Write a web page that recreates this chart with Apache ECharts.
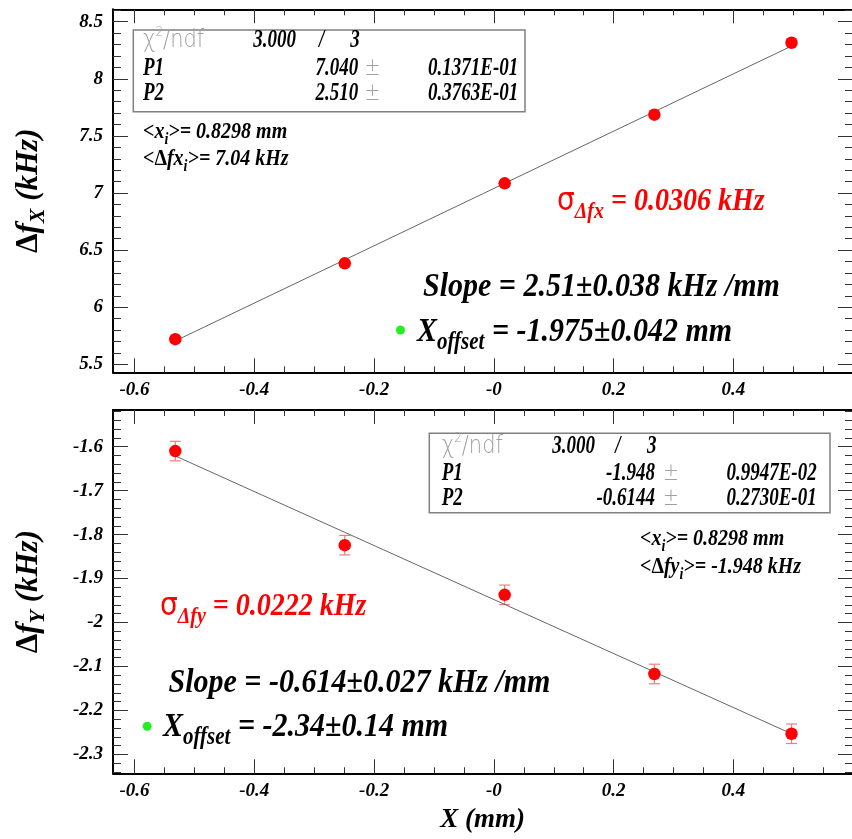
<!DOCTYPE html>
<html><head><meta charset="utf-8">
<script src="https://cdn.jsdelivr.net/npm/echarts@6/dist/echarts.min.js"></script>
<style>html,body{margin:0;padding:0;background:#fff}#c{width:852px;height:839px}</style>
</head><body><div id="c"></div><script>
// ---------------- data ----------------
const xPos = [-0.532, -0.249, 0.018, 0.268, 0.497];
const dfx = [5.72, 6.384, 7.085, 7.686, 8.316];
const dfy = [-1.610, -1.824, -1.937, -2.117, -2.253];
const dfyErr = [0.0222, 0.0222, 0.0222, 0.0222, 0.0222];
const fitX = [-0.532, 0.497];
const fitDfx = [5.705, 8.287];
const fitDfy = [-1.621, -2.253];
const offTopX = [-0.156], offTopY = [5.80];
const offBotX = [-0.579], offBotY = [-2.236];
const xTickValues = [-0.6, -0.4, -0.2, 0, 0.2, 0.4];
const xTickLabels = ['-0.6', '-0.4', '-0.2', '-0', '0.2', '0.4'];
const yTopTickValues = [5.5, 6, 6.5, 7, 7.5, 8, 8.5];
const yTopTickLabels = ['5.5', '6', '6.5', '7', '7.5', '8', '8.5'];
const yBotTickValues = [-2.3, -2.2, -2.1, -2, -1.9, -1.8, -1.7, -1.6];
const yBotTickLabels = ['-2.3', '-2.2', '-2.1', '-2', '-1.9', '-1.8', '-1.7', '-1.6'];
// fit statistics text
const chiNdf = ['3.000', '3'];
const topParVals = ['7.040', '2.510'];
const topParErrs = ['0.1371E-01', '0.3763E-01'];
const botParVals = ['-1.948', '-0.6144'];
const botParErrs = ['0.9947E-02', '0.2730E-01'];
const topMeans = ['0.8298 mm', '7.04 kHz'];
const botMeans = ['0.8298 mm', '-1.948 kHz'];
const topSigma = '0.0306 kHz', botSigma = '0.0222 kHz';
const topSlope = '2.51±0.038 kHz /mm', botSlope = '-0.614±0.027 kHz /mm';
const topOffset = '-1.975±0.042 mm', botOffset = '-2.34±0.14 mm';

// ---------------- layout ----------------
const X_MIN = -0.636, X_MAX = 0.598;
const YT_MIN = 5.43, YT_MAX = 8.609;
const YB_MIN = -2.343, YB_MAX = -1.5165;
const SERIF = '"Liberation Serif","Times New Roman",serif';
const SANS = '"DejaVu Sans",sans-serif';

function minorTicks(min, max, perUnit, every) {
  const out = [];
  for (let k = Math.ceil(min * perUnit - 1e-9); k <= Math.floor(max * perUnit + 1e-9); k++) {
    if (k % every !== 0) out.push(k / perUnit);
  }
  return out;
}
const xMinor = minorTicks(X_MIN, X_MAX, 20, 4);
const ytMinor = minorTicks(YT_MIN, YT_MAX, 10, 5);
const ybMinor = minorTicks(YB_MIN, YB_MAX, 50, 5);

function lookup(vals, labels, v) {
  let bi = 0;
  vals.forEach((t, i) => { if (Math.abs(t - v) < Math.abs(vals[bi] - v)) bi = i; });
  return labels[bi];
}

function R(size, color) {
  const s = Math.round(size * 0.7);
  const c = color || '#000';
  return {
    n: {fontFamily: SERIF, fontStyle: 'italic', fontWeight: 'bold', fontSize: size, color: c, fill: c, lineHeight: size},
    u: {fontFamily: SERIF, fontWeight: 'bold', fontSize: size, color: c, fill: c, lineHeight: size},
    s: {fontFamily: SERIF, fontStyle: 'italic', fontWeight: 'bold', fontSize: s, color: c, fill: c, lineHeight: size, padding: [Math.round(size * 0.6), 0, 0, 0]},
    g: {fontFamily: SANS, fontSize: size, color: c, fill: c, lineHeight: size},
    l: {fontFamily: SANS, fontWeight: 'lighter', fontSize: size, color: '#a0a0a0', fill: '#a0a0a0', lineHeight: size},
    lsup: {fontFamily: SANS, fontWeight: 'lighter', fontSize: Math.round(size * 0.55), color: '#a0a0a0', fill: '#a0a0a0', lineHeight: size, padding: [0, 0, Math.round(size * 0.6), 0]}
  };
}

const tickStyle = {color: '#333', width: 1};
const frame = {show: true, onZero: false, lineStyle: {color: '#000', width: 2}};
const noLine = {show: false, onZero: false};
const labelFont = {fontFamily: SERIF, fontStyle: 'italic', fontWeight: 'bold', fontSize: 19, color: '#000'};

function mkX(grid, name) {
  const base = {type: 'value', gridIndex: grid, min: X_MIN, max: X_MAX, splitLine: {show: false}};
  return [
    Object.assign({}, base, {position: 'bottom', axisLine: frame,
      axisTick: {show: true, inside: true, length: 14, customValues: xTickValues, lineStyle: tickStyle},
      axisLabel: Object.assign({show: true, customValues: xTickValues, margin: 8,
        formatter: v => lookup(xTickValues, xTickLabels, v)}, labelFont),
      name: name, nameLocation: 'middle', nameGap: 33,
      nameTextStyle: {rich: R(27, '#000')}}),
    Object.assign({}, base, {position: 'bottom', axisLine: noLine,
      axisTick: {show: true, inside: true, length: 6, customValues: xMinor, lineStyle: tickStyle}, axisLabel: {show: false}}),
    Object.assign({}, base, {position: 'top', axisLine: frame,
      axisTick: {show: true, inside: true, length: 14, customValues: xTickValues, lineStyle: tickStyle}, axisLabel: {show: false}}),
    Object.assign({}, base, {position: 'top', axisLine: noLine,
      axisTick: {show: true, inside: true, length: 6, customValues: xMinor, lineStyle: tickStyle}, axisLabel: {show: false}})
  ];
}
function mkY(grid, min, max, vals, labels, minor, name) {
  const base = {type: 'value', gridIndex: grid, min: min, max: max, splitLine: {show: false}};
  return [
    Object.assign({}, base, {position: 'left', axisLine: frame,
      axisTick: {show: true, inside: true, length: 15, customValues: vals, lineStyle: tickStyle},
      axisLabel: Object.assign({show: true, customValues: vals, margin: 10,
        formatter: v => lookup(vals, labels, v)}, labelFont),
      name: name, nameLocation: 'middle', nameRotate: 90, nameGap: 69,
      nameTextStyle: {rich: R(31, '#000')}}),
    Object.assign({}, base, {position: 'left', axisLine: noLine,
      axisTick: {show: true, inside: true, length: 8, customValues: minor, lineStyle: tickStyle}, axisLabel: {show: false}}),
    Object.assign({}, base, {position: 'right', axisLine: noLine,
      axisTick: {show: true, inside: true, length: 14, customValues: vals, lineStyle: tickStyle}, axisLabel: {show: false}}),
    Object.assign({}, base, {position: 'right', axisLine: noLine,
      axisTick: {show: true, inside: true, length: 7, customValues: minor, lineStyle: tickStyle}, axisLabel: {show: false}})
  ];
}

function zip(a, b) { return a.map((v, i) => [v, b[i]]); }
function errBars(xi, yi, ys, errs) {
  return {
    type: 'custom', xAxisIndex: xi, yAxisIndex: yi, z: 2, silent: true,
    encode: {x: 0, y: 1},
    data: xPos.map((x, i) => [x, ys[i], errs[i]]),
    renderItem(params, api) {
      const x = api.value(0), y = api.value(1), e = api.value(2);
      const hi = api.coord([x, y + e]), lo = api.coord([x, y - e]);
      const w = 5.5, st = {stroke: '#f07c7c', lineWidth: 1.2};
      return {type: 'group', children: [
        {type: 'line', shape: {x1: hi[0], y1: hi[1], x2: lo[0], y2: lo[1]}, style: st},
        {type: 'line', shape: {x1: hi[0] - w, y1: hi[1], x2: hi[0] + w, y2: hi[1]}, style: st},
        {type: 'line', shape: {x1: lo[0] - w, y1: lo[1], x2: lo[0] + w, y2: lo[1]}, style: st}
      ]};
    }
  };
}
function points(xi, yi, ys) {
  return {type: 'scatter', xAxisIndex: xi, yAxisIndex: yi, z: 4, symbol: 'circle', symbolSize: 12.5,
    itemStyle: {color: '#ff0000', opacity: 1}, data: zip(xPos, ys)};
}
function fitLine(xi, yi, ys) {
  return {type: 'line', xAxisIndex: xi, yAxisIndex: yi, z: 3, symbol: 'none', silent: true,
    lineStyle: {color: '#666', width: 1}, data: zip(fitX, ys)};
}
function greenDot(xi, yi, xs, ys) {
  return {type: 'scatter', xAxisIndex: xi, yAxisIndex: yi, z: 4, symbolSize: 9,
    itemStyle: {color: '#22ee22', opacity: 1}, data: zip(xs, ys)};
}

// ---------------- annotations ----------------
function T(x, y, text, size, color, align, sy) {
  return {type: 'text', x: x, y: y, z: 100, scaleY: sy || 1,
    style: {text: text, rich: R(size, color || '#000'), align: align || 'left', verticalAlign: 'middle'}};
}
function statBox(bx, by, bw, bh, xs, rows, vals, errs) {
  // xs: [labelLeft, chiRight, slashC, ndfC, valRight, pmC, errRight]
  const sz = 19, k = 1.3;
  return [
    {type: 'rect', z: 90, shape: {x: bx, y: by, width: bw, height: bh},
      style: {fill: '#fff', stroke: '#808080', lineWidth: 1.5}},
    T(xs[0], rows[0], '{l|χ}{lsup|2}{l|/ndf}', 21, '#000', 'left', 1.2),
    T(xs[1], rows[0], '{n|' + chiNdf[0] + '}', sz, '#000', 'right', k),
    T(xs[2], rows[0], '{n|/}', sz, '#000', 'center', k),
    T(xs[3], rows[0], '{n|' + chiNdf[1] + '}', sz, '#000', 'center', k),
    T(xs[0], rows[1], '{n|P1}', sz, '#000', 'left', k),
    T(xs[0], rows[2], '{n|P2}', sz, '#000', 'left', k),
    T(xs[4], rows[1], '{n|' + vals[0] + '}', sz, '#000', 'right', k),
    T(xs[4], rows[2], '{n|' + vals[1] + '}', sz, '#000', 'right', k),
    T(xs[5], rows[1], '{l|±}', 19, '#000', 'center', k),
    T(xs[5], rows[2], '{l|±}', 19, '#000', 'center', k),
    T(xs[6], rows[1], '{n|' + errs[0] + '}', sz, '#000', 'right', k),
    T(xs[6], rows[2], '{n|' + errs[1] + '}', sz, '#000', 'right', k)
  ];
}

const graphics = [].concat(
  statBox(133.3, 30, 391.7, 81.7, [143, 296, 321.7, 355, 358.3, 372.5, 518.3], [40.5, 68.5, 93.5], topParVals, topParErrs),
  [
    T(143, 132, '{n|<x}{s|i}{n|>= ' + topMeans[0] + '}', 20, '#000', 'left', 1.2),
    T(143, 159, '{n|<}{u|Δ}{n|fx}{s|i}{n|>= ' + topMeans[1] + '}', 20, '#000', 'left', 1.2),
    T(557, 202, '{g|σ}{s|Δfx}{n| = ' + topSigma + '}', 28, '#ff0000', 'left', 1.15),
    T(423, 287, '{n|Slope = ' + topSlope + '}', 30, '#000', 'left', 1.15),
    T(417, 332, '{n|X}{s|offset}{n| = ' + topOffset + '}', 30, '#000', 'left', 1.15)
  ],
  statBox(429.3, 433.3, 400.7, 79.4, [441.7, 595, 618, 651.7, 655, 671, 816.7], [446.5, 473.5, 498.5], botParVals, botParErrs),
  [
    T(640, 539, '{n|<x}{s|i}{n|>= ' + botMeans[0] + '}', 20, '#000', 'left', 1.2),
    T(640, 567, '{n|<}{u|Δ}{n|fy}{s|i}{n|>= ' + botMeans[1] + '}', 20, '#000', 'left', 1.2),
    T(160, 607, '{g|σ}{s|Δfy}{n| = ' + botSigma + '}', 28, '#ff0000', 'left', 1.15),
    T(168.5, 683, '{n|Slope = ' + botSlope + '}', 30, '#000', 'left', 1.15),
    T(163, 727, '{n|X}{s|offset}{n| = ' + botOffset + '}', 30, '#000', 'left', 1.15)
  ]
);

const chart = echarts.init(document.getElementById('c'), null, {renderer: 'canvas'});
chart.setOption({
  animation: false,
  backgroundColor: '#fff',
  grid: [
    {left: 111.7, top: 9.3, right: 0, height: 363},
    {left: 111.7, top: 410, right: 0, height: 363.3}
  ],
  xAxis: [].concat(mkX(0, ''), mkX(1, '{n|X (mm)}')),
  yAxis: [].concat(
    mkY(0, YT_MIN, YT_MAX, yTopTickValues, yTopTickLabels, ytMinor, '{u|Δ}{n|f}{s|X}{n| (kHz)}'),
    mkY(1, YB_MIN, YB_MAX, yBotTickValues, yBotTickLabels, ybMinor, '{u|Δ}{n|f}{s|Y}{n| (kHz)}')
  ),
  series: [
    fitLine(0, 0, fitDfx), points(0, 0, dfx), greenDot(0, 0, offTopX, offTopY),
    fitLine(4, 4, fitDfy), errBars(4, 4, dfy, dfyErr), points(4, 4, dfy), greenDot(4, 4, offBotX, offBotY)
  ],
  graphic: graphics
});
</script></body></html>
